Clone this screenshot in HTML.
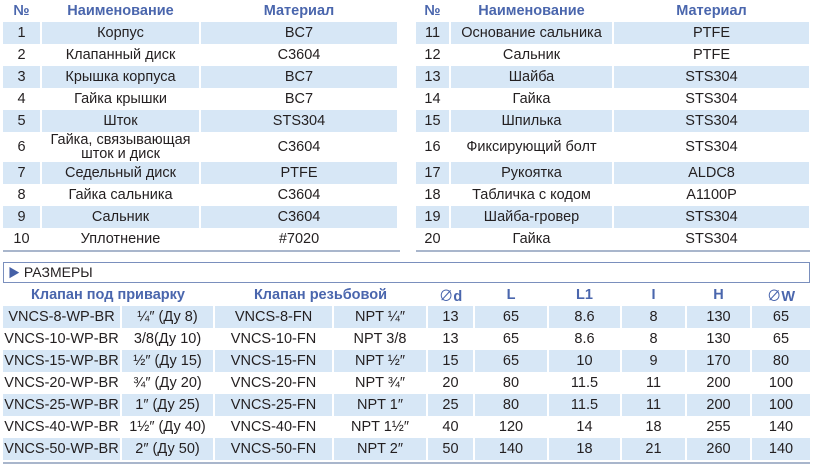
<!DOCTYPE html>
<html><head><meta charset="utf-8"><style>
body{margin:0;width:816px;height:473px;background:#fff;position:relative;overflow:hidden;font-family:"Liberation Sans","Noto Sans CJK SC",sans-serif;color:#231f20}
table{position:absolute;border-collapse:separate;border-spacing:2px 0;table-layout:fixed;font-size:14.5px}
td,th{padding:0;text-align:center;white-space:nowrap;overflow:hidden}
th{color:#4a66ad;font-weight:bold;font-size:14.5px;height:22px}
td{height:22px}
tr.s td{background:#d7e7f6}
.bl{position:absolute;height:2px;background:#a9b6cc}
.o{font-weight:normal}
</style></head><body>
<table style="left:1px;top:0">
<col style="width:37px"><col style="width:157px"><col style="width:196px">
<tr><th>№</th><th>Наименование</th><th>Материал</th></tr>
<tr class="s"><td>1</td><td>Корпус</td><td>BC7</td></tr>
<tr><td>2</td><td>Клапанный диск</td><td>C3604</td></tr>
<tr class="s"><td>3</td><td>Крышка корпуса</td><td>BC7</td></tr>
<tr><td>4</td><td>Гайка крышки</td><td>BC7</td></tr>
<tr class="s"><td>5</td><td>Шток</td><td>STS304</td></tr>
<tr><td style="height:30px">6</td><td style="line-height:14px;white-space:normal">Гайка, связывающая шток и диск</td><td>C3604</td></tr>
<tr class="s"><td>7</td><td>Седельный диск</td><td>PTFE</td></tr>
<tr><td>8</td><td>Гайка сальника</td><td>C3604</td></tr>
<tr class="s"><td>9</td><td>Сальник</td><td>C3604</td></tr>
<tr><td>10</td><td>Уплотнение</td><td>#7020</td></tr>
</table>
<table style="left:414px;top:0">
<col style="width:33px"><col style="width:161px"><col style="width:195px">
<tr><th>№</th><th>Наименование</th><th>Материал</th></tr>
<tr class="s"><td>11</td><td>Основание сальника</td><td>PTFE</td></tr>
<tr><td>12</td><td>Сальник</td><td>PTFE</td></tr>
<tr class="s"><td>13</td><td>Шайба</td><td>STS304</td></tr>
<tr><td>14</td><td>Гайка</td><td>STS304</td></tr>
<tr class="s"><td>15</td><td>Шпилька</td><td>STS304</td></tr>
<tr><td style="height:30px">16</td><td>Фиксирующий болт</td><td>STS304</td></tr>
<tr class="s"><td>17</td><td>Рукоятка</td><td>ALDC8</td></tr>
<tr><td>18</td><td>Табличка с кодом</td><td>A1100P</td></tr>
<tr class="s"><td>19</td><td>Шайба-гровер</td><td>STS304</td></tr>
<tr><td>20</td><td>Гайка</td><td>STS304</td></tr>
</table>
<div class="bl" style="left:3px;top:250px;width:397px"></div>
<div class="bl" style="left:416px;top:250px;width:394px"></div>
<div style="position:absolute;left:3px;top:262px;width:805px;height:19px;border:1px solid #7a8fbd;font-size:14px;line-height:19px"><span style="color:#4560a6;font-size:12px;margin-left:4px">▶</span> РАЗМЕРЫ</div>
<table style="left:1px;top:284px">
<col style="width:117px"><col style="width:91px"><col style="width:117px"><col style="width:92px"><col style="width:45px"><col style="width:72px"><col style="width:71px"><col style="width:63px"><col style="width:63px"><col style="width:58px">
<tr><th colspan="2">Клапан под приварку</th><th colspan="2">Клапан резьбовой</th><th><span class="o">∅</span>d</th><th>L</th><th>L1</th><th>I</th><th>H</th><th><span class="o">∅</span>W</th></tr>
<tr class="s"><td>VNCS-8-WP-BR</td><td>¼″ (Ду 8)</td><td>VNCS-8-FN</td><td>NPT ¼″</td><td>13</td><td>65</td><td>8.6</td><td>8</td><td>130</td><td>65</td></tr>
<tr><td>VNCS-10-WP-BR</td><td>3/8(Ду 10)</td><td>VNCS-10-FN</td><td>NPT 3/8</td><td>13</td><td>65</td><td>8.6</td><td>8</td><td>130</td><td>65</td></tr>
<tr class="s"><td>VNCS-15-WP-BR</td><td>½″ (Ду 15)</td><td>VNCS-15-FN</td><td>NPT ½″</td><td>15</td><td>65</td><td>10</td><td>9</td><td>170</td><td>80</td></tr>
<tr><td>VNCS-20-WP-BR</td><td>¾″ (Ду 20)</td><td>VNCS-20-FN</td><td>NPT ¾″</td><td>20</td><td>80</td><td>11.5</td><td>11</td><td>200</td><td>100</td></tr>
<tr class="s"><td>VNCS-25-WP-BR</td><td>1″ (Ду 25)</td><td>VNCS-25-FN</td><td>NPT 1″</td><td>25</td><td>80</td><td>11.5</td><td>11</td><td>200</td><td>100</td></tr>
<tr><td>VNCS-40-WP-BR</td><td>1½″ (Ду 40)</td><td>VNCS-40-FN</td><td>NPT 1½″</td><td>40</td><td>120</td><td>14</td><td>18</td><td>255</td><td>140</td></tr>
<tr class="s"><td>VNCS-50-WP-BR</td><td>2″ (Ду 50)</td><td>VNCS-50-FN</td><td>NPT 2″</td><td>50</td><td>140</td><td>18</td><td>21</td><td>260</td><td>140</td></tr>
</table>
<div class="bl" style="left:3px;top:462px;width:807px"></div>
</body></html>
